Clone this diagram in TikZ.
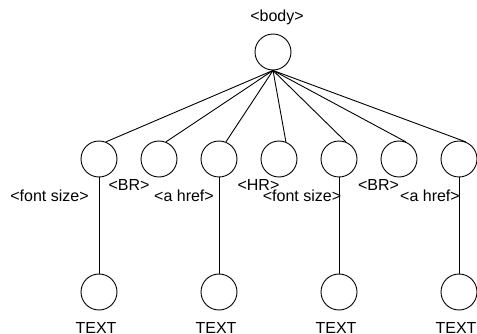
\documentclass[tikz,border=0pt]{standalone}
\usepackage{fontspec}
\setmainfont{Liberation Sans}
\begin{document}
\begin{tikzpicture}[x=1pt,y=-1pt,
  circ/.style={circle,draw,minimum size=36pt,inner sep=0pt,line width=0.9pt},
  lbl/.style={anchor=base,inner sep=0pt,font=\fontsize{16}{19}\selectfont},
  edge/.style={line width=0.9pt}]
\useasboundingbox (0,0) rectangle (477,334);
% root
\node[circ] (root) at (273,52) {};
\node[lbl] (lbody) at (277,22) {<body>};
% children
\node[circ] (c1) at (99,159) {};
\node[circ] (c2) at (159,159) {};
\node[circ] (c3) at (219,159) {};
\node[circ] (c4) at (279,159) {};
\node[circ] (c5) at (339,159) {};
\node[circ] (c6) at (399,159) {};
\node[circ] (c7) at (459,159) {};
% leaves
\node[circ] (l1) at (99,292) {};
\node[circ] (l3) at (219,292) {};
\node[circ] (l5) at (339,292) {};
\node[circ] (l7) at (459,292) {};
% labels
\node[lbl] (t1) at (49.5,201) {<font size>};
\node[lbl] (t2) at (129,191) {<BR>};
\node[lbl] (t3) at (184,201) {<a href>};
\node[lbl] (t4) at (258.5,190) {<HR>};
\node[lbl] (t5) at (302,201) {<font size>};
\node[lbl] (t6) at (378.5,190) {<BR>};
\node[lbl] (t7) at (430,201) {<a href>};
\node[lbl] (x1) at (96,333.5) {TEXT};
\node[lbl] (x3) at (216,333.5) {TEXT};
\node[lbl] (x5) at (336,333.5) {TEXT};
\node[lbl] (x7) at (456,333.5) {TEXT};
% connectors
\foreach \c in {c1,c2,c3,c4,c5,c6,c7}
  \draw[edge] (root.south) -- (\c.68);
\draw[edge] (c1.south) -- (l1.north);
\draw[edge] (c3.south) -- (l3.north);
\draw[edge] (c5.south) -- (l5.north);
\draw[edge] (c7.south) -- (l7.north);
\end{tikzpicture}
\end{document}
